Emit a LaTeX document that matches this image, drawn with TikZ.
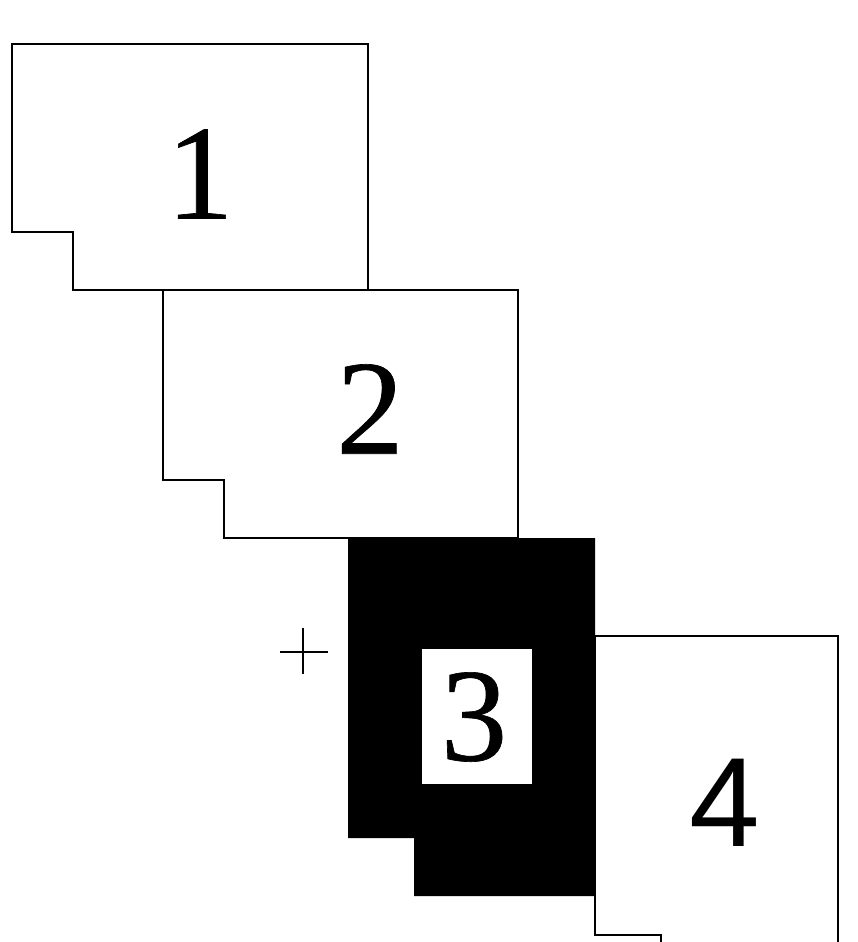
\documentclass[tikz,border=0pt]{standalone}
\usepackage{fontspec}
\setmainfont{Liberation Serif}
\newfontfamily\numserifvery[FakeBold=0.5]{Liberation Serif}
\newfontfamily\numsans{Liberation Sans}
\tikzset{
  outline/.style={draw=black, line width=1.4pt, line join=miter},
  numserif/.style={inner sep=0pt, font=\numserifvery\fontsize{135}{135}\selectfont},
  numsansstyle/.style={inner sep=0pt, font=\numsans\fontsize{127}{127}\selectfont},
}
\begin{document}
\begin{tikzpicture}[x=1pt,y=-1pt]
\useasboundingbox (0,0) rectangle (858,942);
\fill[white] (0,0) rectangle (858,942);
\clip (0,0) rectangle (858,942);
% panel 1
\draw[outline, fill=white] (12,44) -- (368,44) -- (368,290) -- (73,290) -- (73,232) -- (12,232) -- cycle;
% panel 2
\draw[outline, fill=white] (163,290) -- (518,290) -- (518,538) -- (224,538) -- (224,480) -- (163,480) -- cycle;
% panel 3 (black)
\fill[black] (348,538) -- (595,538) -- (595,896) -- (414,896) -- (414,838) -- (348,838) -- cycle;
\fill[white] (422,649) rectangle (532,784);
% panel 4
\fill[white] (595,636) -- (838,636) -- (838,950) -- (661,950) -- (661,935) -- (595,935) -- cycle;
\draw[outline] (661,950) -- (661,935) -- (595,935) -- (595,636) -- (838,636) -- (838,950);
% crosshair
\coordinate (cl) at (280,652);
\coordinate (cr) at (328,652);
\coordinate (ct) at (303,628);
\coordinate (cb) at (303,674);
\draw[line width=1.1pt] (cl) -- (cr);
\draw[line width=1.1pt] (ct) -- (cb);
% labels
\node[numserif] (n1) at (200,174) {1};
\node[numserif] (n2) at (370,409) {2};
\node[numserif, font=\numserifvery\fontsize{133}{133}\selectfont] (n3) at (474,717) {3};
\node[numsansstyle] (n4) at (725,803) {4};
\end{tikzpicture}
\end{document}
